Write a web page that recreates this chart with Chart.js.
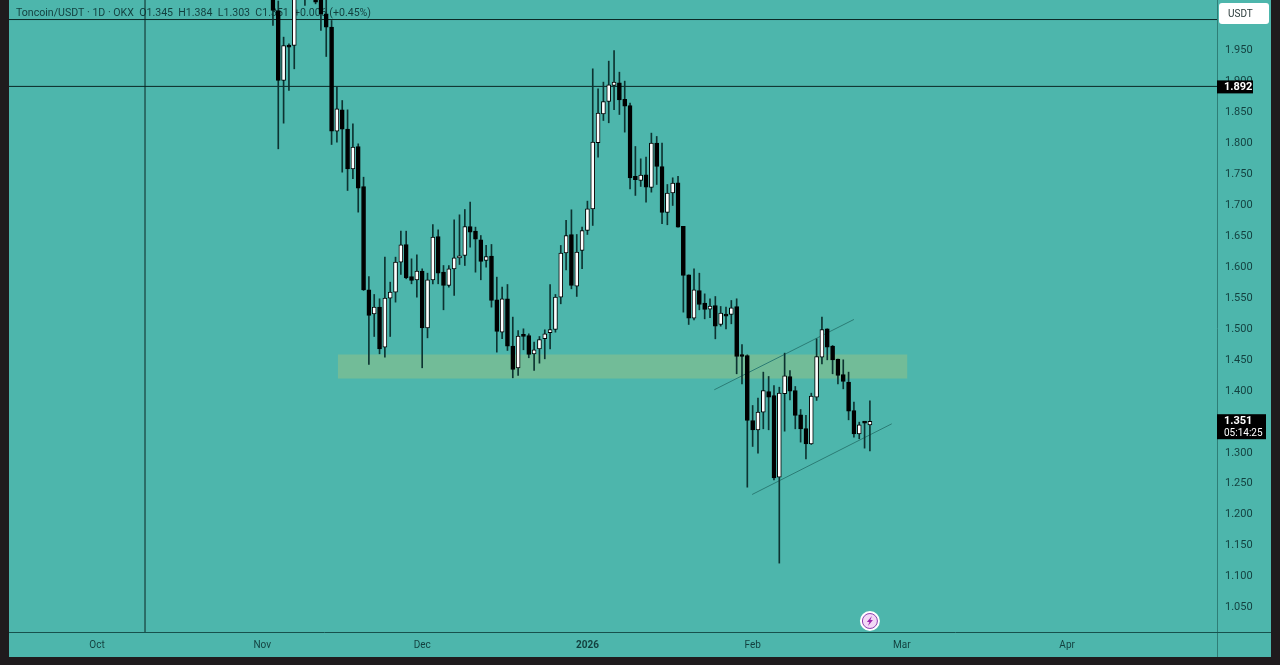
<!DOCTYPE html>
<html>
<head>
<meta charset="utf-8">
<title>Toncoin/USDT 1D</title>
<script src="https://cdn.jsdelivr.net/npm/chart.js@4/dist/chart.umd.min.js"></script>
<style>
  html, body { margin: 0; height: 100%; background: #1f1b1d; overflow: hidden; }
  #chart { position: absolute; left: 9px; top: 0; background: #4db6ac; }
</style>
</head>
<body>
<canvas id="chart" width="1262" height="657"></canvas>
<script>
// Candles are daily, day 0 = 1 Oct, first candle is day 33
const firstDay = 33;
const opens = [
  2.06, 2.0146, 1.9015, 1.9581, 1.9581, 2.06, 2.08, 2.06, 2.04, 2.035, 2.0092, 1.9877,
  1.8197, 1.8541, 1.8229, 1.7588, 1.7949, 1.7303, 1.5633, 1.5245, 1.5353, 1.4707, 1.5498, 1.5595,
  1.6080, 1.6365, 1.5848, 1.5795, 1.5935, 1.5019, 1.5795, 1.6495, 1.5918, 1.5703, 1.5972, 1.6150,
  1.6188, 1.6656, 1.6581, 1.6441, 1.6107, 1.6177, 1.5472, 1.4949, 1.5488, 1.4723, 1.4373, 1.4912,
  1.4895, 1.4599, 1.4680, 1.4842, 1.4939, 1.4992, 1.5515, 1.6231, 1.6527, 1.5692, 1.6269, 1.6592,
  1.6942, 1.8009, 1.8477, 1.8676, 1.8935, 1.8978, 1.8709, 1.8612, 1.7465, 1.7400, 1.7491, 1.7287,
  1.8003, 1.7626, 1.6883, 1.7200, 1.7362, 1.6657, 1.5875, 1.5175, 1.5622, 1.5418, 1.5321, 1.5380,
  1.5073, 1.5229, 1.5234, 1.5364, 1.4583, 1.4572, 1.3522, 1.3371, 1.3656, 1.3990, 1.3926, 1.2606,
  1.3953, 1.4233, 1.4006, 1.3613, 1.3392, 1.3145, 1.3899, 1.4545, 1.5003, 1.4723, 1.4513, 1.4265,
  1.4141, 1.3683, 1.3306, 1.3492, 1.345
];
const highs = [
  2.08, 2.03, 1.9716, 1.9608, 2.08, 2.11, 2.10, 2.09, 2.06, 2.05, 2.04, 1.9985,
  1.8908, 1.8692, 1.8541, 1.8315, 1.7992, 1.7453, 1.5848, 1.5558, 1.5488, 1.6161, 1.5757, 1.6161,
  1.6581, 1.6581, 1.6134, 1.6198, 1.5972, 1.5902, 1.6689, 1.6602, 1.6026, 1.6026, 1.6764, 1.6845,
  1.6931, 1.7049, 1.6646, 1.6511, 1.6350, 1.6366, 1.5838, 1.5676, 1.5719, 1.5192, 1.4976, 1.5003,
  1.4922, 1.4788, 1.4879, 1.4987, 1.5719, 1.5558, 1.6350, 1.6754, 1.6926, 1.6527, 1.6646, 1.7066,
  1.9204, 1.8881, 1.8989, 1.9328, 1.9500, 1.9150, 1.9005, 1.8649, 1.7949, 1.7750, 1.7777, 1.8165,
  1.8111, 1.8003, 1.7335, 1.7443, 1.7465, 1.6657, 1.5875, 1.5972, 1.5902, 1.5568, 1.5488, 1.5525,
  1.5364, 1.5353, 1.5461, 1.5488, 1.4750, 1.4583, 1.3764, 1.3883, 1.4303, 1.4233, 1.4087, 1.4060,
  1.4610, 1.4330, 1.4071, 1.3699, 1.3603, 1.3963, 1.4841, 1.5191, 1.5003, 1.4734, 1.4513, 1.4502,
  1.4303, 1.3818, 1.3495, 1.3506, 1.384
];
const lows = [
  1.9904, 1.7911, 1.8326, 1.8854, 1.9204, 2.04, 2.0227, 2.04, 2.0254, 1.9823, 1.9403, 1.7981,
  1.8019, 1.7534, 1.7238, 1.7427, 1.6888, 1.5622, 1.4426, 1.4879, 1.4599, 1.4545, 1.4879, 1.5434,
  1.5881, 1.5811, 1.5730, 1.5514, 1.4373, 1.4857, 1.5730, 1.5730, 1.5310, 1.5676, 1.5541, 1.6042,
  1.6026, 1.6322, 1.5918, 1.5795, 1.6000, 1.5353, 1.4626, 1.4842, 1.4653, 1.4211, 1.4249, 1.4664,
  1.4535, 1.4330, 1.4448, 1.4518, 1.4680, 1.4949, 1.5407, 1.5956, 1.5649, 1.5526, 1.5973, 1.6527,
  1.6673, 1.7777, 1.8369, 1.8332, 1.8542, 1.8466, 1.8181, 1.7265, 1.7158, 1.7303, 1.7050, 1.7211,
  1.7335, 1.6700, 1.6684, 1.6996, 1.6646, 1.5272, 1.5073, 1.5148, 1.5310, 1.5164, 1.5181, 1.4841,
  1.5046, 1.5003, 1.5084, 1.4276, 1.4114, 1.2444, 1.3102, 1.2994, 1.3387, 1.3371, 1.2563, 1.1217,
  1.3349, 1.3856, 1.3387, 1.3172, 1.2902, 1.3134, 1.3845, 1.4437, 1.4502, 1.4276, 1.4114, 1.4033,
  1.3532, 1.3252, 1.3226, 1.3075, 1.303
];
const closes = [
  2.0146, 1.9015, 1.9581, 1.9554, 2.06, 2.09, 2.06, 2.07, 2.0281, 2.0092, 1.9877, 1.8197,
  1.8558, 1.8229, 1.7588, 1.7938, 1.7276, 1.5633, 1.5218, 1.5353, 1.4680, 1.5498, 1.5595, 1.6080,
  1.6360, 1.5827, 1.5784, 1.5935, 1.5019, 1.5795, 1.6484, 1.5902, 1.5703, 1.5972, 1.6150, 1.6177,
  1.6656, 1.6565, 1.6452, 1.6091, 1.6172, 1.5461, 1.4960, 1.5488, 1.4723, 1.4346, 1.4885, 1.4879,
  1.4588, 1.4664, 1.4831, 1.4922, 1.4992, 1.5515, 1.6226, 1.6511, 1.5703, 1.6242, 1.6592, 1.6942,
  1.8019, 1.8488, 1.8676, 1.8946, 1.8989, 1.8703, 1.8601, 1.7443, 1.7411, 1.7486, 1.7292, 1.8003,
  1.7626, 1.6883, 1.7195, 1.7357, 1.6646, 1.5865, 1.5175, 1.5633, 1.5396, 1.5315, 1.5369, 1.5046,
  1.5256, 1.5208, 1.5342, 1.4556, 1.4556, 1.3522, 1.3371, 1.3656, 1.4006, 1.3899, 1.2595, 1.3963,
  1.4243, 1.3996, 1.3603, 1.3387, 1.3145, 1.3915, 1.4556, 1.4992, 1.4707, 1.4502, 1.4249, 1.4152,
  1.3673, 1.3306, 1.3452, 1.3480, 1.351
];

// Axis ticks and ranges
const monthDays = [0, 31, 61, 92, 123, 151, 182];
const monthLabels = ['Oct', 'Nov', 'Dec', '2026', 'Feb', 'Mar', 'Apr'];
const priceTicks = [1.05, 1.1, 1.15, 1.2, 1.25, 1.3, 1.35, 1.4, 1.45, 1.5, 1.55, 1.6, 1.65, 1.7, 1.75, 1.8, 1.85, 1.9, 1.95];
const dayRange = [-16.52, 210.12];
const priceRange = [1.0104, 2.0316];

// Drawings on the chart
const hLevels = [2.0, 1.892];
const crossDay = 9.0;
const zoneDays = [45.2, 152.0];
const zonePrices = [1.4588, 1.42];
const upperChannel = [[115.8, 1.4018], [142.0, 1.5154]];
const lowerChannel = [[122.9, 1.2326], [149.1, 1.3468]];

const legendText = 'Toncoin/USDT · 1D · OKX  O1.345  H1.384  L1.303  C1.351  +0.006 (+0.45%)';
const lastPrice = 1.351;
const countdown = '05:14:25';
const darkText = '#123f3e';
const lineDark = '#0a2624';
const fontName = 'Roboto, sans-serif';

const days = opens.map((_, i) => firstDay + i);
const bodyColor = i => closes[i] >= opens[i] ? '#ffffff' : '#000000';

// Green zone and legend sit under the candles
const underCandles = {
  id: 'underCandles',
  beforeDatasetsDraw(chart) {
    const { ctx, scales: { x, y } } = chart;
    ctx.save();
    ctx.fillStyle = '#72bc98';
    ctx.fillRect(x.getPixelForValue(zoneDays[0]), y.getPixelForValue(zonePrices[0]),
      x.getPixelForValue(zoneDays[1]) - x.getPixelForValue(zoneDays[0]),
      y.getPixelForValue(zonePrices[1]) - y.getPixelForValue(zonePrices[0]));
    ctx.fillStyle = darkText;
    ctx.font = '10.6px ' + fontName;
    ctx.textBaseline = 'middle';
    ctx.fillText(legendText, 7, 13);
    ctx.restore();
  }
};

// Axis tags and frame lines go on top of everything
const overlay = {
  id: 'overlay',
  afterDraw(chart) {
    const { ctx, chartArea: area, scales: { x, y } } = chart;
    ctx.save();
    ctx.strokeStyle = '#2f7d76';
    ctx.lineWidth = 1;
    ctx.beginPath();
    ctx.moveTo(area.right + 0.5, 0);
    ctx.lineTo(area.right + 0.5, chart.height);
    ctx.stroke();
    ctx.strokeStyle = '#17514d';
    ctx.beginPath();
    ctx.moveTo(0, area.bottom + 0.5);
    ctx.lineTo(chart.width, area.bottom + 0.5);
    ctx.stroke();

    // hline tag
    const tagY = y.getPixelForValue(hLevels[1]);
    ctx.fillStyle = '#000000';
    ctx.fillRect(area.right, tagY - 6, 36, 13);
    ctx.fillStyle = '#ffffff';
    ctx.font = 'bold 11px ' + fontName;
    ctx.textBaseline = 'middle';
    ctx.fillText(hLevels[1].toFixed(3), area.right + 7, tagY + 1);

    // last price tag
    const lastY = y.getPixelForValue(lastPrice);
    ctx.fillStyle = '#000000';
    ctx.fillRect(area.right, lastY - 7, 49, 25);
    ctx.fillStyle = '#ffffff';
    ctx.fillText(lastPrice.toFixed(3), area.right + 7, lastY);
    ctx.font = '10px ' + fontName;
    ctx.fillText(countdown, area.right + 7, lastY + 12);

    // USDT button
    ctx.fillStyle = '#ffffff';
    ctx.beginPath();
    ctx.roundRect(area.right + 2, 3, 50, 21, 3);
    ctx.fill();
    ctx.fillStyle = '#2a3a3a';
    ctx.font = '10px ' + fontName;
    ctx.fillText('USDT', area.right + 11, 14);

    // lightning badge under the last candle
    const bx = x.getPixelForValue(days[days.length - 1]);
    const by = 621;
    ctx.fillStyle = '#ffffff';
    ctx.beginPath();
    ctx.arc(bx, by, 10, 0, Math.PI * 2);
    ctx.fill();
    ctx.fillStyle = '#f3d9f6';
    ctx.strokeStyle = '#8e3fb0';
    ctx.beginPath();
    ctx.arc(bx, by, 7.5, 0, Math.PI * 2);
    ctx.fill();
    ctx.stroke();
    ctx.fillStyle = '#9b27b0';
    ctx.beginPath();
    ctx.moveTo(bx + 2, by - 5);
    ctx.lineTo(bx - 3, by + 1);
    ctx.lineTo(bx - 0.5, by + 1);
    ctx.lineTo(bx - 2, by + 5);
    ctx.lineTo(bx + 3, by - 1);
    ctx.lineTo(bx + 0.5, by - 1);
    ctx.closePath();
    ctx.fill();
    ctx.restore();
  }
};

const lineSet = (points, color, width) => ({
  type: 'line',
  data: points.map(p => ({ x: p[0], y: p[1] })),
  borderColor: color,
  borderWidth: width,
  pointRadius: 0,
  order: 2
});

new Chart(document.getElementById('chart'), {
  type: 'bar',
  data: {
    datasets: [
      {
        label: 'body',
        data: days.map((d, i) => ({ x: d, y: [opens[i], closes[i]] })),
        backgroundColor: days.map((_, i) => bodyColor(i)),
        borderColor: '#000000',
        borderWidth: 1,
        borderSkipped: false,
        barThickness: 4,
        minBarLength: 2,
        grouped: false,
        order: 0
      },
      {
        label: 'wick',
        data: days.map((d, i) => ({ x: d, y: [lows[i], highs[i]] })),
        backgroundColor: '#0d3331',
        barThickness: 1,
        grouped: false,
        order: 1
      },
      lineSet([[dayRange[0], hLevels[0]], [dayRange[1], hLevels[0]]], lineDark, 1),
      lineSet([[dayRange[0], hLevels[1]], [dayRange[1], hLevels[1]]], lineDark, 1),
      lineSet([[crossDay, priceRange[0]], [crossDay, priceRange[1]]], lineDark, 1),
      lineSet(upperChannel, '#2b7c75', 1),
      lineSet(lowerChannel, '#2b7c75', 1)
    ]
  },
  options: {
    responsive: false,
    animation: false,
    layout: { padding: 0 },
    plugins: { legend: { display: false }, tooltip: { enabled: false } },
    scales: {
      x: {
        type: 'linear',
        min: dayRange[0],
        max: dayRange[1],
        offset: false,
        grid: { display: false, drawTicks: false },
        border: { display: false },
        afterBuildTicks: s => { s.ticks = monthDays.map(v => ({ value: v })); },
        afterFit: s => { s.height = 25; s.paddingLeft = 0; s.paddingRight = 0; },
        ticks: {
          autoSkip: false,
          maxRotation: 0,
          padding: 7,
          color: darkText,
          font: c => ({ family: fontName, size: 10, weight: c.tick && c.tick.value === 92 ? 'bold' : 'normal' }),
          callback: v => monthLabels[monthDays.indexOf(v)]
        }
      },
      y: {
        position: 'right',
        min: priceRange[0],
        max: priceRange[1],
        grid: { display: false, drawTicks: false },
        border: { display: false },
        afterBuildTicks: s => { s.ticks = priceTicks.map(v => ({ value: v })); },
        afterFit: s => { s.width = 54; s.paddingTop = 0; s.paddingBottom = 0; },
        ticks: {
          autoSkip: false,
          padding: 8,
          color: darkText,
          font: { family: fontName, size: 11 },
          callback: v => v.toFixed(3)
        }
      }
    }
  },
  plugins: [underCandles, overlay]
});
</script>
</body>
</html>
